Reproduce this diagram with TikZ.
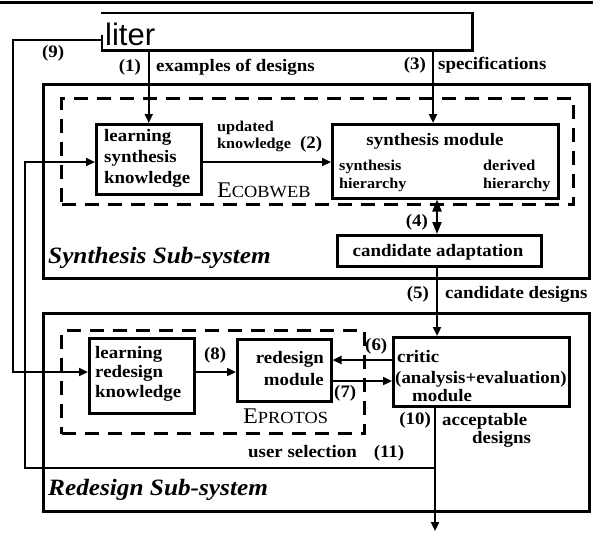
\documentclass[tikz,border=0pt]{standalone}
\usepackage{fontspec}
\setmainfont{Liberation Serif}[FakeStretch=1.08]
\newfontfamily\litfont{Liberation Sans}
\usetikzlibrary{arrows.meta}
\begin{document}
\begin{tikzpicture}[x=1pt,y=-1pt,
  boxn/.style={draw, line width=2.5pt, inner sep=0pt, anchor=north west},
  subn/.style={draw, line width=3pt, inner sep=0pt, anchor=north west},
  dboxn/.style={draw, line width=3pt, dash pattern=on 14pt off 9pt, inner sep=0pt, anchor=north west},
  tx/.style={font=\fontsize{17.5}{20}\selectfont\bfseries, inner sep=0pt, anchor=base west},
  txs/.style={font=\fontsize{15}{17}\selectfont\bfseries, inner sep=0pt, anchor=base west},
  subl/.style={font=\fontsize{23.4}{25}\selectfont\bfseries\itshape, inner sep=0pt, anchor=base west},
  scl/.style={inner sep=0pt, anchor=base west},
  conn/.style={line width=2.2pt},
  arr/.style={conn, -{Triangle[length=9pt,width=8pt]}},
  dbl/.style={conn, {Triangle[length=12pt,width=9pt]}-{Triangle[length=12pt,width=9pt]}},
]
\useasboundingbox (0,0) rectangle (593,533);
\draw[line width=3pt] (0,2.5) -- (593,2.5);

% liter box
\node[minimum width=370pt, minimum height=37pt, inner sep=0pt, anchor=north west] (liter) at (102,13) {};
\draw[line width=2.5pt] ([yshift=-22pt]liter.north west) -- (liter.south west) -- (liter.south east) -- (liter.north east) -- ([xshift=-1.25pt]liter.north west);
\node[font=\litfont\fontsize{31}{31}\selectfont, inner sep=0pt, anchor=base west] (litertext) at (105,45) {liter};

% sub-systems and dashed groups
\node[subn, minimum width=546pt, minimum height=194pt] (synsub) at (42,83) {};
\node[subn, minimum width=546pt, minimum height=198pt] (redsub) at (42,312) {};
\node[dboxn, minimum width=512pt, minimum height=106pt] (ecob) at (60,97) {};
\node[dboxn, minimum width=303pt, minimum height=103pt] (eprot) at (60,329) {};

% boxes
\node[boxn, minimum width=105pt, minimum height=70pt] (lsk) at (95,123) {};
\node[boxn, minimum width=226pt, minimum height=74pt] (sm) at (331,123) {};
\node[boxn, minimum width=204pt, minimum height=31pt] (ca) at (336,234) {};
\node[boxn, minimum width=105pt, minimum height=75pt] (lrk) at (88,337) {};
\node[boxn, minimum width=94pt, minimum height=62pt] (rm) at (236,338) {};
\node[boxn, minimum width=176pt, minimum height=69pt] (crit) at (392,336) {};

% box texts
\node[tx] (lsk1) at (104,141) {learning};
\node[tx] (lsk2) at (104,162) {synthesis};
\node[tx] (lsk3) at (104,183) {knowledge};
\node[tx, anchor=base] (smt) at (435,145) {synthesis module};
\node[txs] (smh1) at (339,170) {synthesis};
\node[txs] (smh2) at (339,188) {hierarchy};
\node[txs] (smd1) at (483,170) {derived};
\node[txs] (smd2) at (483,188) {hierarchy};
\node[tx, anchor=base] (cat) at (438,256) {candidate adaptation};
\node[tx] (lrk1) at (95,358) {learning};
\node[tx] (lrk2) at (95,377) {redesign};
\node[tx] (lrk3) at (95,397) {knowledge};
\node[tx, anchor=base east] (rm1) at (324,363) {redesign};
\node[tx, anchor=base east] (rm2) at (324,385) {module};
\node[tx] (cr1) at (397,362) {critic};
\node[tx] (cr2) at (395,383) {(analysis+evaluation)};
\node[tx] (cr3) at (412,401) {module};

% group labels
\node[scl] (ecobl) at (217,197) {{\fontsize{22.4}{22}\selectfont E}{\fontsize{17}{17}\selectfont COBWEB}};
\node[scl] (eprotl) at (243,423) {{\fontsize{22.4}{22}\selectfont E}{\fontsize{17}{17}\selectfont PROTOS}};
\node[subl] (synl) at (48,263) {Synthesis Sub-system};
\node[subl] (redl) at (48,495) {Redesign Sub-system};

% connector labels
\node[tx] (l9) at (42,57) {(9)};
\node[tx, anchor=base east] (l1) at (141,71) {(1)};
\node[tx] (l1t) at (156,71) {examples of designs};
\node[tx, anchor=base east] (l3) at (426,69) {(3)};
\node[tx] (l3t) at (438,69) {specifications};
\node[txs] (l2a) at (217,131) {updated};
\node[txs] (l2b) at (217,148) {knowledge};
\node[tx] (l2) at (300,148) {(2)};
\node[tx, anchor=base east] (l4) at (428,226) {(4)};
\node[tx, anchor=base east] (l5) at (429,298) {(5)};
\node[tx] (l5t) at (445,298) {candidate designs};
\node[tx] (l8) at (204,359) {(8)};
\node[tx] (l6) at (365,350) {(6)};
\node[tx] (l7) at (334,397) {(7)};
\node[tx, anchor=base east] (l10) at (431,424) {(10)};
\node[tx] (l10a) at (442,425) {acceptable};
\node[tx] (l10b) at (472,443) {designs};
\node[tx] (l11t) at (248,457) {user selection};
\node[tx, anchor=base] (l11) at (389,457) {(11)};

% connectors
\coordinate (c11) at (435,468);
\coordinate (outp) at (435,531);
\draw[arr] (liter.south -| lsk.north) -- (lsk.north);
\draw[arr] (liter.south -| 433,0) -- (sm.north -| 433,0);
\draw[arr] (lsk.east |- 0,162) -- (sm.west |- 0,162);
\draw[dbl] (sm.south -| 437,0) -- (ca.north -| 437,0);
\draw[arr] (ca.south -| 437,0) -- (crit.north -| 437,0);
\draw[arr] (lrk.east |- 0,372) -- (rm.west |- 0,372);
\draw[arr] (crit.west |- 0,360) -- (rm.east |- 0,360);
\draw[arr] (rm.east |- 0,381) -- (crit.west |- 0,381);
\draw[arr] (crit.south -| 435,0) -- (outp);
\draw[arr] (liter.south west |- 0,40) -- (13,40) -- (13,372) -- (lrk.west |- 0,372);
\draw[arr] (c11) -- (25,468) -- (25,162) -- (lsk.west |- 0,162);
\end{tikzpicture}
\end{document}
